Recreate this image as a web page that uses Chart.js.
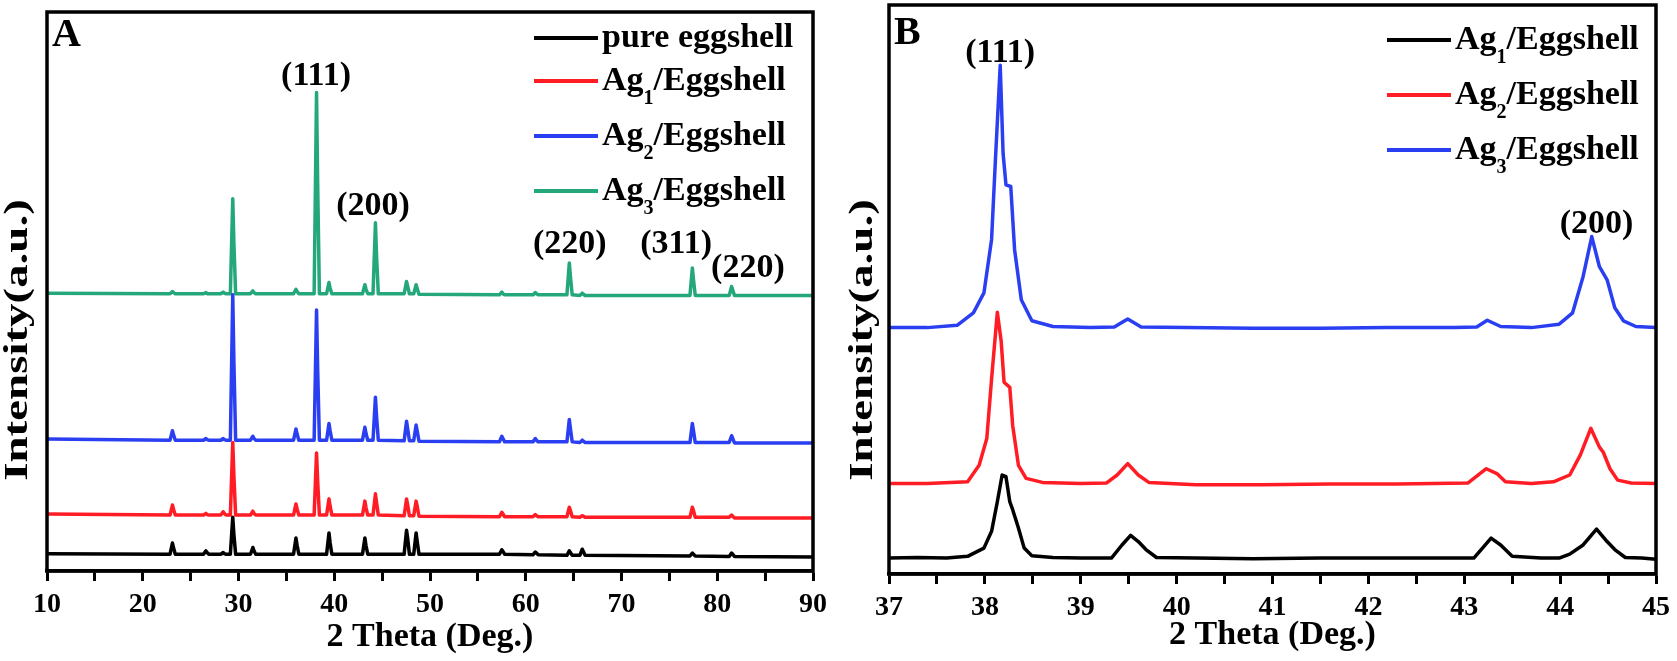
<!DOCTYPE html>
<html>
<head>
<meta charset="utf-8">
<script src="https://cdn.jsdelivr.net/npm/chart.js@4.4.1/dist/chart.umd.min.js"></script>
<style>
  html, body { margin: 0; padding: 0; background: #fff; }
  #wrapA { position: absolute; left: 0; top: 0; width: 840px; height: 661px; }
  #wrapB { position: absolute; left: 840px; top: 0; width: 837px; height: 661px; }
</style>
</head>
<body>
<div id="wrapA"><canvas id="chartA" width="840" height="661"></canvas></div>
<div id="wrapB"><canvas id="chartB" width="837" height="661"></canvas></div>
<script>
// ---- Panel A: full scan 10-90 deg (relative intensity above each trace's baseline) ----
const thetaA = [10,
  22.85, 23.1, 23.22, 23.4,
  26.35, 26.6, 26.72, 26.9,
  28.15, 28.4, 28.52, 28.7,
  29.15, 29.4, 29.52, 29.7,
  31.25, 31.5, 31.62, 31.8,
  35.75, 36.0, 36.12, 36.3,
  37.9, 38.15, 38.27, 38.45,
  39.2, 39.45, 39.57, 39.75,
  42.95, 43.2, 43.32, 43.5,
  44.05, 44.3, 44.42, 44.6,
  47.3, 47.55, 47.67, 47.85,
  48.3, 48.55, 48.67, 48.85,
  57.25, 57.5, 57.62, 57.8,
  60.75, 61.0, 61.12, 61.3,
  64.3, 64.55, 64.67, 64.85,
  65.65, 65.9, 66.02, 66.2,
  77.15, 77.4, 77.52, 77.7,
  81.25, 81.5, 81.62, 81.8,
  90];
const pureA = [0.1,
  0, 2.0, 1.1, 0,
  0, 0.6, 0.3, 0,
  0, 0.3, 0.1, 0,
  0, 6.6, 3.5, 0,
  0, 1.2, 0.6, 0,
  0, 2.9, 1.6, 0,
  0, 0, 0, 0,
  0, 3.8, 2.0, 0,
  0, 2.9, 1.5, 0,
  0, 0, 0, 0,
  0, 4.3, 2.8, 0,
  0, 3.8, 2.2, 0,
  0, 0.8, 0.5, 0,
  -0.1, 0.4, 0.2, -0.1,
  -0.2, 0.6, 0.3, -0.2,
  -0.2, 0.9, 0.5, -0.2,
  -0.3, 0.2, 0, -0.3,
  -0.4, 0.2, 0, -0.4,
  -0.5];
const ag1A = [0.2,
  0, 1.8, 1.0, 0,
  0, 0.3, 0.1, 0,
  0, 0.6, 0.3, 0,
  0, 13.0, 7.0, 0,
  0, 0.7, 0.3, 0,
  0, 2.0, 1.1, 0,
  0, 11.1, 6.0, 0,
  0, 2.9, 1.6, 0,
  0, 2.5, 1.3, 0,
  0, 3.8, 2.2, 0,
  -0.1, 2.9, 1.8, -0.1,
  -0.1, 2.5, 1.5, -0.2,
  -0.3, 0.5, 0.2, -0.3,
  -0.3, 0.1, -0.1, -0.3,
  -0.3, 1.4, 0.8, -0.3,
  -0.4, -0.1, -0.2, -0.4,
  -0.4, 1.4, 0.8, -0.4,
  -0.4, 0, -0.2, -0.5,
  -0.5];
const ag2A = [0.2,
  0, 1.7, 0.9, 0,
  0, 0.3, 0.1, 0,
  0, 0.3, 0.1, 0,
  0, 26.0, 14.0, 0,
  0, 0.7, 0.3, 0,
  0, 2.0, 1.1, 0,
  0, 23.3, 12.5, 0,
  0, 3.0, 1.7, 0,
  0, 2.3, 1.2, 0,
  0, 7.7, 4.2, 0,
  -0.1, 3.4, 2.0, -0.1,
  -0.1, 2.7, 1.6, -0.2,
  -0.3, 0.7, 0.3, -0.3,
  -0.3, 0.3, 0, -0.3,
  -0.3, 3.7, 2.0, -0.3,
  -0.4, 0, -0.2, -0.4,
  -0.4, 3.0, 1.7, -0.4,
  -0.4, 0.8, 0.3, -0.5,
  -0.5];
const ag3A = [0.1,
  0, 0.4, 0.2, 0,
  0, 0.2, 0, 0,
  0, 0.3, 0.1, 0,
  0, 17.0, 9.0, 0,
  0, 0.5, 0.2, 0,
  0, 0.8, 0.4, 0,
  0, 36.0, 19.5, 0,
  0, 2.0, 1.0, 0,
  0, 1.6, 0.8, 0,
  0, 12.7, 6.8, 0,
  0, 2.2, 1.3, 0,
  0, 1.6, 0.9, -0.1,
  -0.2, 0.3, 0, -0.2,
  -0.2, 0.2, 0, -0.2,
  -0.2, 5.5, 3.0, -0.2,
  -0.3, 0.1, -0.1, -0.3,
  -0.3, 4.6, 2.5, -0.3,
  -0.3, 1.3, 0.6, -0.3,
  -0.3];
const offsetsA = [3.0, 10.0, 23.4, 49.6];
const namesA = ['pure eggshell', 'Ag1/Eggshell', 'Ag2/Eggshell', 'Ag3/Eggshell'];
const peakTextA = ['(111)', '(200)', '(220)', '(311)', '(220)'];
const peakXA = [38.1, 44.05, 64.6, 75.7, 83.2];
const peakYA = [88.7, 65.5, 58.7, 58.7, 54.4];

// ---- Panel B: zoom 37-45 deg ----
const thetaB1 = [37, 37.3, 37.6, 37.82, 37.99, 38.07, 38.13, 38.18, 38.22, 38.26, 38.29, 38.35, 38.41, 38.49, 38.71,
  39.0, 39.32, 39.43, 39.52, 39.6, 39.68, 39.79, 40.2, 40.8, 41.5, 42.2, 42.8, 43.1, 43.28, 43.38, 43.5,
  43.8, 43.99, 44.1, 44.24, 44.38, 44.49, 44.57, 44.68, 44.85, 45];
const ag1B = [0, 0.1, 0, 0.3, 1.75, 4.7, 9.9, 14.6, 14.3, 9.9, 8.5, 5.3, 1.75, 0.4, 0.1,
  0, 0, 2.3, 4.0, 2.9, 1.5, 0.1, 0, -0.1, 0, 0, 0, 0, 3.5, 2.3, 0.3,
  0, 0, 0.7, 2.3, 5.1, 2.9, 1.5, 0.1, 0, -0.2];
const thetaB2 = [37, 37.4, 37.82, 37.94, 38.02, 38.07, 38.13, 38.17, 38.2, 38.26, 38.29, 38.35, 38.43, 38.6,
  39.0, 39.27, 39.38, 39.49, 39.6, 39.71, 40.2, 40.9, 41.6, 42.3, 43.04, 43.23, 43.34, 43.43,
  43.7, 43.93, 44.1, 44.21, 44.32, 44.41, 44.45, 44.52, 44.6, 44.74, 45];
const ag2B = [0, 0, 0.3, 3.2, 7.9, 18.4, 30.1, 25.0, 17.8, 16.9, 10.2, 3.2, 0.9, 0.2,
  0, 0.1, 1.5, 3.5, 1.5, 0.2, -0.2, -0.2, -0.1, -0.1, 0.1, 2.6, 1.75, 0.3,
  0, 0.3, 1.5, 5.0, 9.7, 6.4, 5.5, 2.6, 0.6, 0.1, 0];
const thetaB3 = [37, 37.4, 37.71, 37.88, 37.99, 38.07, 38.11, 38.16, 38.19, 38.22, 38.27, 38.31, 38.38, 38.49, 38.71,
  39.1, 39.35, 39.49, 39.63, 40.1, 40.8, 41.5, 42.2, 42.9, 43.13, 43.24, 43.38,
  43.7, 43.99, 44.13, 44.24, 44.33, 44.41, 44.49, 44.57, 44.66, 44.79, 45];
const ag3B = [0, 0, 0.4, 2.6, 6.1, 15.5, 29.5, 46.1, 30.6, 25.1, 24.8, 13.7, 4.9, 1.2, 0.2,
  0, 0.1, 1.5, 0.1, 0, -0.1, -0.1, 0, 0, 0.1, 1.3, 0.2,
  0, 0.6, 2.6, 9.0, 16.0, 10.7, 8.4, 3.5, 1.2, 0.2, 0];
const offsetsB = [2.8, 15.9, 43.3];
const namesB = ['Ag1/Eggshell', 'Ag2/Eggshell', 'Ag3/Eggshell'];
const peakTextB = ['(111)', '(200)'];
const peakXB = [38.16, 44.38];
const peakYB = [91.8, 61.6];

const SERIF = "'Liberation Serif', 'Times New Roman', serif";
const BLACK = '#000000', RED = '#ff1c24', BLUE = '#2b3ff2', GREEN = '#24a87b';

function toPoints(xs, ys, off) {
  return xs.map((v, i) => ({ x: v, y: ys[i] + off }));
}

// "Ag1/Eggshell" -> Ag + subscript 1 + /Eggshell
function drawName(ctx, text, x, y, size) {
  const m = text.match(/^(Ag)(\d)(.*)$/);
  ctx.textAlign = 'left';
  ctx.textBaseline = 'alphabetic';
  ctx.font = `bold ${size}px ${SERIF}`;
  if (!m) { ctx.fillText(text, x, y); return; }
  ctx.fillText(m[1], x, y);
  x += ctx.measureText(m[1]).width;
  ctx.font = `bold ${Math.round(size * 0.6)}px ${SERIF}`;
  ctx.fillText(m[2], x, y + size * 0.4);
  x += ctx.measureText(m[2]).width;
  ctx.font = `bold ${size}px ${SERIF}`;
  ctx.fillText(m[3], x, y);
}

const decor = {
  id: 'decor',
  afterDraw(chart, args, opts) {
    const { ctx, chartArea: a, scales: { x, y } } = chart;
    ctx.save();
    // box around plot
    ctx.strokeStyle = '#000';
    ctx.lineWidth = 3.5;
    ctx.strokeRect(a.left, a.top, a.right - a.left, a.bottom - a.top);
    ctx.fillStyle = '#000';
    // panel letter
    ctx.font = `bold 40px ${SERIF}`;
    ctx.textAlign = 'left';
    ctx.textBaseline = 'alphabetic';
    ctx.fillText(opts.letter, a.left + 5, a.top + opts.letterY);
    // legend
    opts.names.forEach((name, i) => {
      const ly = a.top + opts.rows[i];
      ctx.strokeStyle = opts.colors[i];
      ctx.lineWidth = 4;
      ctx.beginPath();
      ctx.moveTo(opts.legendX, ly);
      ctx.lineTo(opts.legendX + 64, ly);
      ctx.stroke();
      drawName(ctx, name, opts.legendX + 68, ly + 9, 34);
    });
    // peak labels
    ctx.font = `bold 34px ${SERIF}`;
    ctx.textAlign = 'center';
    opts.peakText.forEach((t, i) => {
      ctx.fillText(t, x.getPixelForValue(opts.peakX[i]), y.getPixelForValue(opts.peakY[i]) + 10);
    });
    // y axis title (tall condensed look of the original)
    ctx.translate(opts.yTitleX, opts.yTitleY);
    ctx.rotate(-Math.PI / 2);
    ctx.scale(1.38, 1);
    ctx.font = `bold 34px ${SERIF}`;
    ctx.textAlign = 'center';
    ctx.fillText('Intensity(a.u.)', 0, 0);
    ctx.restore();
  }
};

function makeOptions(xmin, xmax, step, axisH, titlePad, pad, decorOpts) {
  return {
    responsive: false,
    animation: false,
    devicePixelRatio: 1,
    layout: { padding: pad },
    elements: {
      point: { radius: 0 },
      line: { borderWidth: 3.5, tension: 0, borderJoinStyle: 'round' }
    },
    plugins: { legend: { display: false }, tooltip: { enabled: false }, decor: decorOpts },
    scales: {
      x: {
        type: 'linear', min: xmin, max: xmax,
        afterFit(scale) { scale.height = axisH; },
        grid: { drawOnChartArea: false, drawTicks: true, tickLength: 10, tickWidth: 3, tickColor: '#000' },
        border: { display: true, color: '#000', width: 3.5 },
        ticks: {
          stepSize: step, autoSkip: false, maxRotation: 0, padding: 7, color: '#000',
          font: { family: SERIF, size: 28, weight: 'bold' },
          callback: v => (Math.abs(v - Math.round(v / (step * 2)) * step * 2) < 1e-6 ? v : '')
        },
        title: {
          display: true, text: '2 Theta (Deg.)', color: '#000',
          font: { family: SERIF, size: 34, weight: 'bold', lineHeight: 1 },
          padding: { top: 0, bottom: titlePad }
        }
      },
      y: { display: false, min: 0, max: 100 }
    }
  };
}

new Chart(document.getElementById('chartA'), {
  type: 'line',
  data: {
    datasets: [
      { label: namesA[0], data: toPoints(thetaA, pureA, offsetsA[0]), borderColor: BLACK },
      { label: namesA[1], data: toPoints(thetaA, ag1A, offsetsA[1]), borderColor: RED },
      { label: namesA[2], data: toPoints(thetaA, ag2A, offsetsA[2]), borderColor: BLUE },
      { label: namesA[3], data: toPoints(thetaA, ag3A, offsetsA[3]), borderColor: GREEN }
    ]
  },
  options: makeOptions(10, 90, 5, 90, 7, { left: 47, top: 12, right: 27, bottom: 0 }, {
    letter: 'A', letterY: 34,
    names: namesA, colors: [BLACK, RED, BLUE, GREEN],
    legendX: 534, rows: [26, 69, 124, 179],
    peakText: peakTextA, peakX: peakXA, peakY: peakYA,
    yTitleX: 27, yTitleY: 340
  }),
  plugins: [decor]
});

new Chart(document.getElementById('chartB'), {
  type: 'line',
  data: {
    datasets: [
      { label: namesB[0], data: toPoints(thetaB1, ag1B, offsetsB[0]), borderColor: BLACK },
      { label: namesB[1], data: toPoints(thetaB2, ag2B, offsetsB[1]), borderColor: RED },
      { label: namesB[2], data: toPoints(thetaB3, ag3B, offsetsB[2]), borderColor: BLUE }
    ]
  },
  options: makeOptions(37, 45, 0.5, 87, 9, { left: 49, top: 5, right: 19, bottom: 0 }, {
    letter: 'B', letterY: 39,
    names: namesB, colors: [BLACK, RED, BLUE],
    legendX: 547, rows: [35, 90, 145],
    peakText: peakTextB, peakX: peakXB, peakY: peakYB,
    yTitleX: 32, yTitleY: 340
  }),
  plugins: [decor]
});
</script>
</body>
</html>
